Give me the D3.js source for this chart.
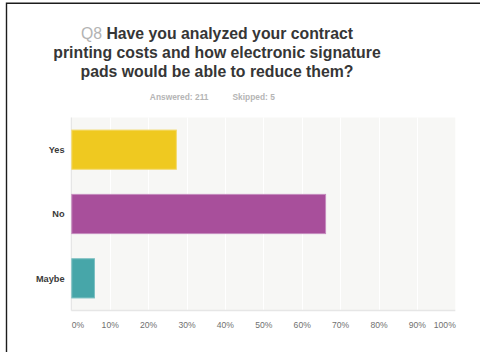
<!DOCTYPE html>
<html>
<head>
<meta charset="utf-8">
<script src="https://cdn.jsdelivr.net/npm/d3@7"></script>
<style>
  html, body { margin: 0; padding: 0; background: #fff; }
  svg { display: block; }
</style>
</head>
<body>
<svg id="chart" width="480" height="352"></svg>
<script>
// Survey answers (share of respondents, %)
const categories = ["Yes", "No", "Maybe"];
const values = [27.49, 66.35, 6.16];
const barColors = ["#efc920", "#a84f9b", "#47a6a9"];
const barEdges = ["#f4da6e", "#c68cbe", "#7cc0c2"];
const tickValues = [0, 10, 20, 30, 40, 50, 60, 70, 80, 90, 100];
const titleNumber = "Q8";
const titleLines = [
  "Have you analyzed your contract",
  "printing costs and how electronic signature",
  "pads would be able to reduce them?"
];
const answered = "Answered: 211";
const skipped = "Skipped: 5";

const svg = d3.select("#chart");
const font = "'Liberation Sans', Arial, Helvetica, sans-serif";

// Frame lines (top and left)
svg.append("path")
  .attr("d", "M6.5,352 L6.5,3.2 L480,3.2")
  .attr("fill", "none")
  .attr("stroke", "#1c1c1c")
  .attr("stroke-width", 1.4);

// Title
const titleX = 217;
const title = svg.append("g")
  .attr("font-family", font)
  .attr("font-size", 15.8)
  .attr("font-weight", "bold")
  .attr("fill", "#363636")
  .attr("text-anchor", "middle");

const t0 = title.append("text").attr("x", titleX).attr("y", 38.5);
t0.append("tspan").attr("fill", "#b3b3b3").attr("font-weight", "normal").text(titleNumber + " ");
t0.append("tspan").text(titleLines[0]);
titleLines.slice(1).forEach((line, i) => {
  title.append("text")
    .attr("x", titleX)
    .attr("y", 38.5 + (i + 1) * 19.4)
    .text(line);
});

// Answered / skipped counts
const meta = svg.append("g")
  .attr("font-family", font)
  .attr("font-size", 8.4)
  .attr("font-weight", "bold")
  .attr("fill", "#b5b5b5");
meta.append("text").attr("x", 208.5).attr("y", 100.3).attr("text-anchor", "end").text(answered);
meta.append("text").attr("x", 232.5).attr("y", 100.3).attr("text-anchor", "start").text(skipped);

// Plot area
const plot = { left: 71.3, right: 455.3, top: 117.5, bottom: 310.5 };

const x = d3.scaleLinear()
  .domain([0, 100])
  .range([plot.left, plot.right]);

const y = d3.scaleBand()
  .domain(categories)
  .range([plot.top, plot.bottom])
  .paddingInner(0.375)
  .paddingOuter(0.1875);

svg.append("rect")
  .attr("x", plot.left)
  .attr("y", plot.top)
  .attr("width", plot.right - plot.left)
  .attr("height", plot.bottom - plot.top)
  .attr("fill", "#f7f7f5");

// Vertical gridlines
svg.append("g")
  .selectAll("line")
  .data(tickValues.filter(d => d > 0 && d < 100))
  .join("line")
  .attr("x1", d => Math.round(x(d)) + 0.5)
  .attr("x2", d => Math.round(x(d)) + 0.5)
  .attr("y1", plot.top)
  .attr("y2", plot.bottom)
  .attr("stroke", "#ffffff")
  .attr("stroke-width", 1);

// Left and bottom axis lines
svg.append("line")
  .attr("x1", plot.left).attr("x2", plot.left)
  .attr("y1", plot.top).attr("y2", plot.bottom)
  .attr("stroke", "#e2e2e2").attr("stroke-width", 1);
svg.append("line")
  .attr("x1", plot.left).attr("x2", plot.right)
  .attr("y1", plot.bottom).attr("y2", plot.bottom)
  .attr("stroke", "#e6e6e6").attr("stroke-width", 1.5);

// Bars
svg.append("g")
  .selectAll("rect")
  .data(categories.map((c, i) => ({ c, v: values[i], i })))
  .join("rect")
  .attr("x", x(0) + 0.5)
  .attr("y", d => y(d.c) + 0.5)
  .attr("width", d => x(d.v) - x(0) - 1)
  .attr("height", y.bandwidth() - 1)
  .attr("fill", d => barColors[d.i])
  .attr("stroke", d => barEdges[d.i])
  .attr("stroke-width", 1);

// Category labels
svg.append("g")
  .attr("font-family", font)
  .attr("font-size", 9.2)
  .attr("font-weight", "bold")
  .attr("fill", "#3a3a3a")
  .attr("text-anchor", "end")
  .selectAll("text")
  .data(categories)
  .join("text")
  .attr("x", 64.5)
  .attr("y", d => y(d) + y.bandwidth() / 2)
  .attr("dy", "0.35em")
  .text(d => d);

// Percentage axis
const xAxis = d3.axisBottom(x)
  .tickValues(tickValues)
  .tickFormat(d => d + "%")
  .tickSize(0)
  .tickPadding(0);

const gx = svg.append("g")
  .attr("transform", `translate(0,${plot.bottom + 11})`)
  .call(xAxis);
gx.select(".domain").remove();
gx.selectAll("text")
  .attr("font-family", font)
  .attr("font-size", 8.6)
  .attr("fill", "#707070")
  .attr("dy", "0.71em")
  .attr("text-anchor", d => d === 0 ? "start" : d === 100 ? "end" : "middle");
</script>
</body>
</html>
